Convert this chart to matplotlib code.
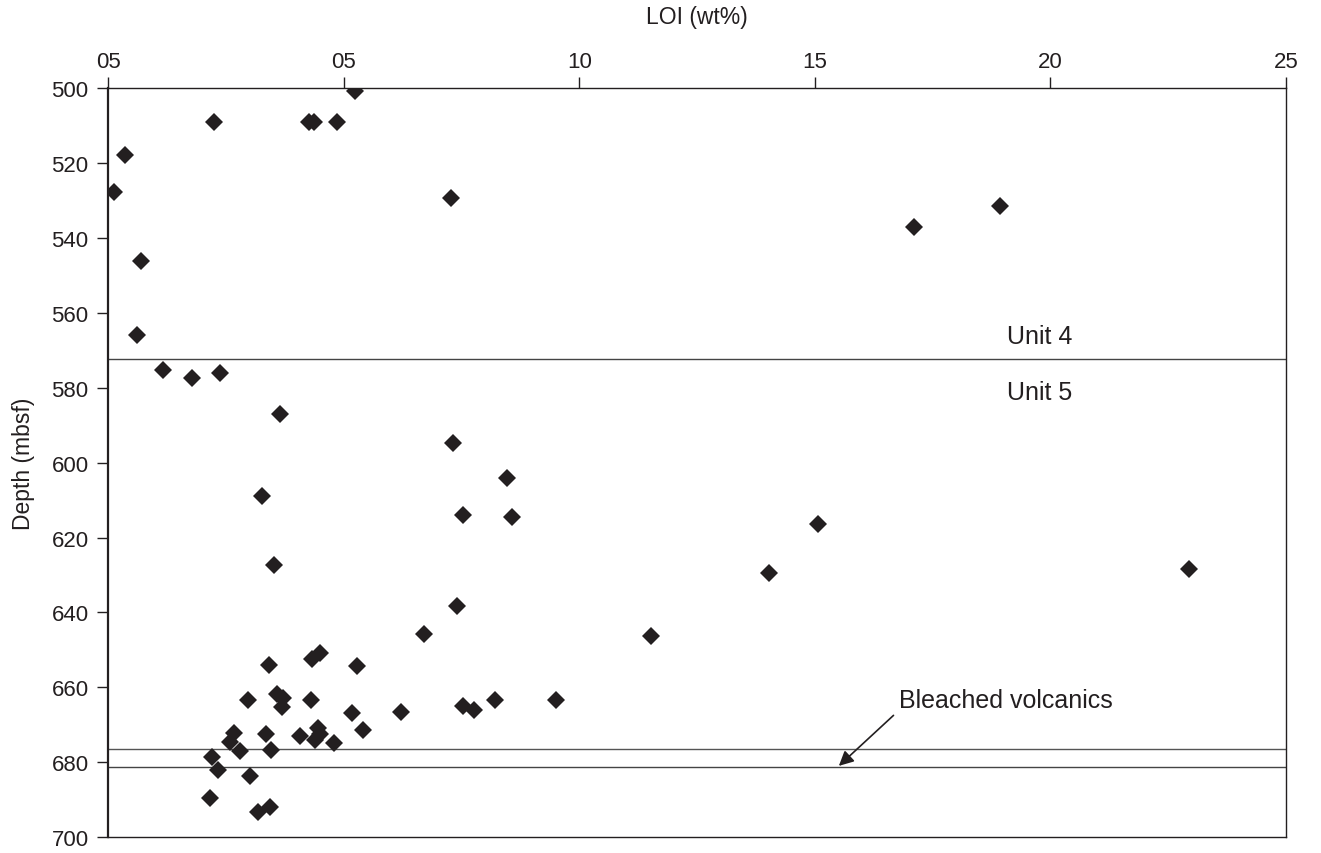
import numpy as np
import matplotlib.pyplot as plt

plt.rcParams['font.family'] = ['Liberation Sans', 'DejaVu Sans']

# LOI (wt%) and depth (mbsf)
loi = [5.25, 2.25, 4.26, 4.37, 4.85, 0.36, 0.13, 7.27, 18.94, 17.10, 0.70, 0.61,
       1.17, 2.38, 1.79, 3.64, 7.32, 8.46, 3.26, 7.53, 8.58, 15.07, 3.53, 22.94,
       14.02, 7.40, 6.70, 11.53, 4.49, 4.33, 3.41, 5.29, 3.59, 3.72, 8.21, 9.50,
       2.96, 4.30, 3.69, 7.54, 7.76, 6.22, 5.17, 4.45, 5.41, 2.68, 3.35, 4.49,
       4.08, 4.40, 2.58, 4.80, 3.45, 2.81, 2.21, 2.33, 3.01, 2.17, 3.44, 3.19]
depth = [500.6, 508.9, 508.9, 508.9, 508.9, 517.8, 527.6, 529.2, 531.3, 537.1, 546.0, 565.9,
         575.3, 576.1, 577.4, 587.0, 594.8, 604.2, 608.9, 613.9, 614.4, 616.3, 627.3, 628.5,
         629.4, 638.2, 645.8, 646.2, 650.8, 652.4, 654.1, 654.2, 661.7, 662.8, 663.5, 663.3,
         663.3, 663.3, 665.3, 664.9, 666.2, 666.5, 666.8, 670.8, 671.3, 672.1, 672.4, 672.4,
         673.0, 674.2, 674.6, 674.9, 676.7, 677.1, 678.6, 682.2, 683.7, 689.5, 692.0, 693.3]

x_ticks = [0, 5, 10, 15, 20, 25]
x_tick_labels = ['05', '05', '10', '15', '20', '25']
y_ticks = list(range(500, 701, 20))

unit_boundary = 572.4
bleached_top = 676.5
bleached_bottom = 681.2

fig = plt.figure(figsize=(13.21, 8.54), dpi=100)
ax = fig.add_axes([0.0818, 0.0187, 0.8917, 0.8767])

ax.plot(loi, depth, 'D', color='#231f20', markersize=8.8, markeredgewidth=0, zorder=3)

# unit boundaries
ax.axhline(unit_boundary, color='#444444', lw=1.0)
ax.axhline(bleached_top, color='#555555', lw=1.0)
ax.axhline(bleached_bottom, color='#444444', lw=1.0)

ax.text(19.07, 566.1, 'Unit 4', fontsize=18, va='center', ha='left', color='#231f20')
ax.text(19.07, 581.2, 'Unit 5', fontsize=18, va='center', ha='left', color='#231f20')
ax.text(16.78, 663.5, 'Bleached volcanics', fontsize=18, va='center', ha='left', color='#231f20')
ax.annotate('', xy=(15.51, 681.0), xytext=(16.67, 667.5),
            arrowprops=dict(arrowstyle='-|>', color='#231f20', lw=1.2,
                            mutation_scale=22, shrinkA=0, shrinkB=0))

ax.set_xlim(0, 25)
ax.set_ylim(700, 500)
ax.xaxis.tick_top()
ax.xaxis.set_label_position('top')
ax.set_xticks(x_ticks)
ax.set_xticklabels(x_tick_labels)
ax.set_yticks(y_ticks)
ax.tick_params(axis='both', labelsize=16, length=8, width=1.0, color='#231f20',
               labelcolor='#231f20')
ax.tick_params(axis='y', pad=6)
ax.tick_params(axis='x', pad=4)
ax.set_xlabel('LOI (wt%)', fontsize=16.5, color='#231f20', labelpad=20)
ax.set_ylabel('Depth (mbsf)', fontsize=16.5, color='#231f20', labelpad=12)

for side, sp in ax.spines.items():
    sp.set_color('#231f20')
    sp.set_linewidth(1.0)
ax.spines['left'].set_linewidth(1.6)

fig.savefig('out.png', dpi=100)
